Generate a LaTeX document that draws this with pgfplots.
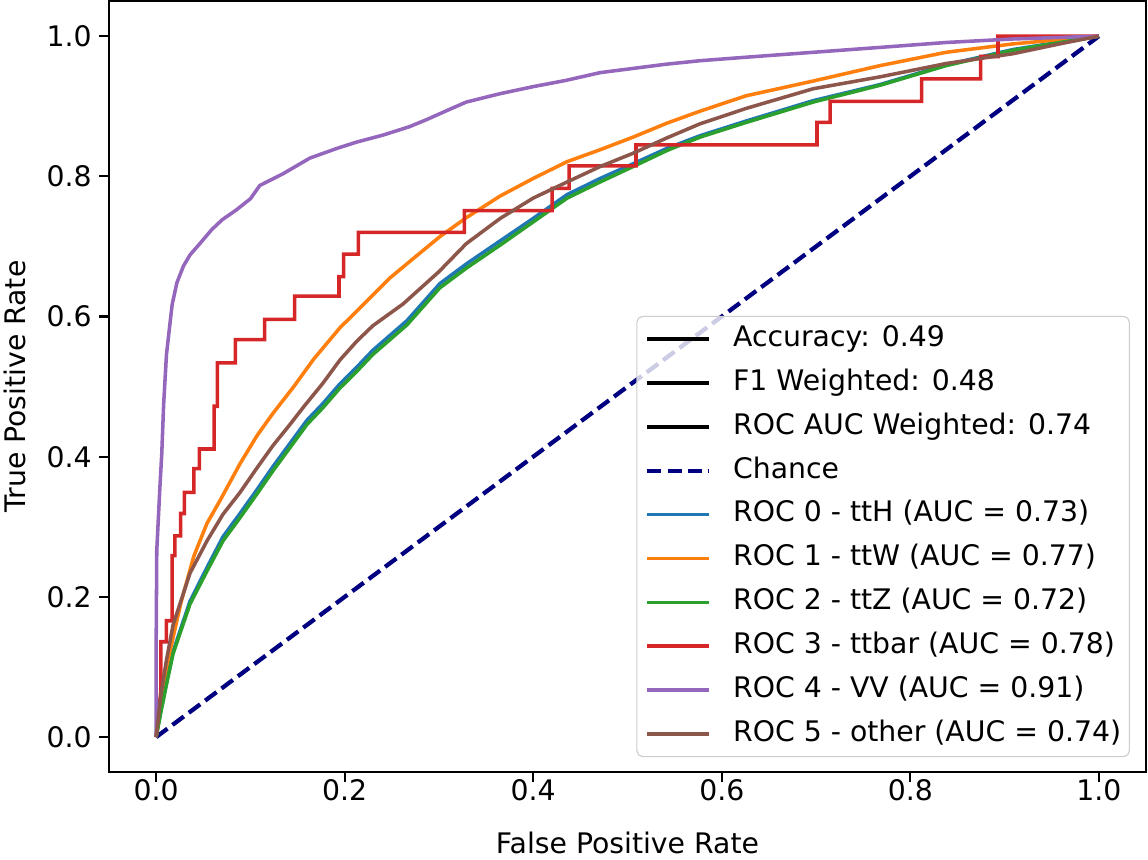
\documentclass[border=0pt]{standalone}
\usepackage{fontspec}
\setmainfont{DejaVu Sans}
\usepackage{pgfplots}
\pgfplotsset{compat=1.18}
\usetikzlibrary{calc}

\definecolor{tabblue}{HTML}{1F77B4}
\definecolor{taborange}{HTML}{FF7F0E}
\definecolor{tabgreen}{HTML}{2CA02C}
\definecolor{tabred}{HTML}{D62728}
\definecolor{tabpurple}{HTML}{9467BD}
\definecolor{tabbrown}{HTML}{8C564B}
\definecolor{chancenavy}{HTML}{000080}

\begin{document}
\fontsize{10bp}{12bp}\selectfont
\begin{tikzpicture}
\begin{axis}[
  scale only axis, width=366.4bp, height=272.4bp,
  xmin=-0.05, xmax=1.05, ymin=-0.05, ymax=1.05,
  xtick={0,0.2,0.4,0.6,0.8,1.0}, ytick={0,0.2,0.4,0.6,0.8,1.0},
  tick pos=left, tick align=outside, major tick length=3.5bp,
  axis line style={line width=0.8bp},
  every tick/.style={black, line width=0.8bp},
  /pgf/number format/fixed, /pgf/number format/fixed zerofill,
  /pgf/number format/precision=1,
  /pgf/number format/assume math mode=true,
  xticklabel style={anchor=north, inner sep=0pt, text height=7.3bp, text depth=0pt, yshift=1bp},
  yticklabel style={anchor=east, inner sep=0pt, xshift=-2.4bp},
  xlabel={False Positive Rate}, ylabel={True Positive Rate},
  xlabel style={at={(axis description cs:0.5,-0.105)}, anchor=base, inner sep=0pt},
  ylabel style={at={(axis description cs:-0.0906,0.5)}, anchor=center, inner sep=0pt},
  legend cell align=left,
  % the point above the line lowers the handle to the middle of the text
  legend image code/.code={\draw[#1] (0bp,0bp) -- (21.8bp,0bp); \path (0bp,2.8bp);},
  legend style={
    at={(axis description cs:1,0)}, anchor=south east, xshift=-5.7bp, yshift=5.3bp,
    draw=black!20, rounded corners=2bp, fill=white, fill opacity=0.8, text opacity=1,
    font=\fontsize{10bp}{12bp}\selectfont,
    inner xsep=2.9bp, inner ysep=3bp, row sep=5.5bp,
    nodes={inner sep=0pt, text height=7.6bp, text depth=2.4bp},
    /tikz/every odd column/.append style={column sep=7.8bp}
  },
  every axis plot/.append style={line width=1.25bp, line join=round}
]
\addlegendimage{black, line width=1.25bp}
\addlegendentry{Accuracy: 0.49}
\addlegendimage{black, line width=1.25bp}
\addlegendentry{F1 Weighted: 0.48}
\addlegendimage{black, line width=1.25bp}
\addlegendentry{ROC AUC Weighted: 0.74}

\addplot[chancenavy, line width=1.5bp, dash pattern=on 5bp off 2.2bp] coordinates {(0,0) (1,1)};
\addlegendentry{Chance}

% ROC 0 - ttH
\addplot[tabblue] coordinates {
(0,0) (0.005,0.038) (0.011,0.078) (0.018,0.122) (0.036,0.194) (0.054,0.242)
(0.071,0.286) (0.089,0.319) (0.107,0.353) (0.124,0.386) (0.142,0.419)
(0.160,0.452) (0.177,0.476) (0.195,0.504) (0.213,0.528) (0.230,0.552)
(0.266,0.594) (0.301,0.647) (0.329,0.675) (0.365,0.708) (0.400,0.740)
(0.436,0.774) (0.471,0.797) (0.506,0.818) (0.542,0.840) (0.577,0.858)
(0.626,0.879) (0.697,0.908) (0.768,0.931) (0.838,0.959) (0.909,0.981) (1,1)};
\addlegendentry{ROC 0 - ttH (AUC = 0.73)}

% ROC 1 - ttW
\addplot[taborange] coordinates {
(0,0) (0.005,0.050) (0.011,0.100) (0.026,0.190) (0.040,0.258) (0.054,0.305)
(0.068,0.338) (0.089,0.390) (0.107,0.430) (0.124,0.462) (0.146,0.500)
(0.167,0.539) (0.195,0.584) (0.216,0.612) (0.248,0.655) (0.273,0.683)
(0.301,0.714) (0.329,0.741) (0.365,0.772) (0.400,0.797) (0.436,0.821)
(0.471,0.838) (0.506,0.856) (0.542,0.876) (0.577,0.893) (0.626,0.915)
(0.697,0.936) (0.768,0.958) (0.838,0.977) (0.909,0.989) (1,1)};
\addlegendentry{ROC 1 - ttW (AUC = 0.77)}

% ROC 2 - ttZ
\addplot[tabgreen] coordinates {
(0,0) (0.005,0.035) (0.011,0.075) (0.018,0.119) (0.036,0.190) (0.054,0.237)
(0.071,0.280) (0.089,0.313) (0.107,0.347) (0.124,0.380) (0.142,0.413)
(0.160,0.446) (0.177,0.470) (0.195,0.498) (0.213,0.522) (0.230,0.546)
(0.266,0.588) (0.301,0.641) (0.329,0.669) (0.365,0.702) (0.400,0.735)
(0.436,0.769) (0.471,0.792) (0.506,0.814) (0.542,0.837) (0.577,0.856)
(0.626,0.877) (0.697,0.906) (0.768,0.930) (0.838,0.958) (0.909,0.980) (1,1)};
\addlegendentry{ROC 2 - ttZ (AUC = 0.72)}

% ROC 3 - ttbar
\addplot[tabred, line join=miter] coordinates {
(0,0) (0.005,0.065) (0.005,0.136) (0.011,0.136) (0.011,0.166) (0.017,0.166)
(0.017,0.259) (0.020,0.259) (0.020,0.287) (0.026,0.287) (0.026,0.319)
(0.030,0.319) (0.030,0.349) (0.040,0.349) (0.040,0.383) (0.046,0.383)
(0.046,0.411) (0.0615,0.411) (0.0615,0.472) (0.065,0.472) (0.065,0.534)
(0.084,0.534) (0.084,0.567) (0.115,0.567) (0.115,0.596) (0.147,0.596)
(0.147,0.629) (0.194,0.629) (0.194,0.657) (0.199,0.657) (0.199,0.689)
(0.2145,0.689) (0.2145,0.720) (0.327,0.720) (0.327,0.751) (0.420,0.751)
(0.420,0.783) (0.438,0.783) (0.438,0.815) (0.509,0.815) (0.509,0.845)
(0.701,0.845) (0.701,0.877) (0.715,0.877) (0.715,0.907) (0.812,0.907)
(0.812,0.939) (0.8745,0.939) (0.8745,0.971) (0.893,0.971) (0.893,1.0) (1,1)};
\addlegendentry{ROC 3 - ttbar (AUC = 0.78)}

% ROC 4 - VV
\addplot[tabpurple] coordinates {
(0,0) (0,0.120) (0.0007,0.266) (0.004,0.356) (0.006,0.404) (0.008,0.475)
(0.011,0.546) (0.017,0.617) (0.022,0.648) (0.029,0.672) (0.036,0.688)
(0.047,0.705) (0.059,0.724) (0.070,0.738) (0.085,0.752) (0.100,0.768)
(0.110,0.787) (0.135,0.804) (0.163,0.826) (0.192,0.840) (0.213,0.849)
(0.241,0.859) (0.269,0.871) (0.287,0.881) (0.312,0.896) (0.329,0.906)
(0.365,0.918) (0.400,0.928) (0.435,0.937) (0.471,0.948) (0.506,0.954)
(0.541,0.960) (0.577,0.965) (0.626,0.970) (0.697,0.977) (0.768,0.984)
(0.838,0.991) (0.909,0.996) (1,1)};
\addlegendentry{ROC 4 - VV (AUC = 0.91)}

% ROC 5 - other
\addplot[tabbrown] coordinates {
(0,0) (0.005,0.060) (0.011,0.110) (0.018,0.160) (0.036,0.234) (0.054,0.280)
(0.071,0.318) (0.089,0.349) (0.107,0.384) (0.124,0.416) (0.142,0.446)
(0.157,0.472) (0.177,0.505) (0.195,0.538) (0.213,0.565) (0.230,0.587)
(0.262,0.618) (0.300,0.664) (0.329,0.704) (0.365,0.740) (0.400,0.769)
(0.436,0.792) (0.471,0.814) (0.506,0.833) (0.542,0.855) (0.577,0.875)
(0.626,0.897) (0.697,0.925) (0.768,0.942) (0.838,0.961) (0.909,0.975)
(0.962,0.990) (1,1)};
\addlegendentry{ROC 5 - other (AUC = 0.74)}
\end{axis}
\pgfresetboundingbox
\path[use as bounding box] ($(current axis.south west)+(-38.5bp,-30.7bp)$) rectangle ($(current axis.north east)+(0.7bp,0.4bp)$);
\end{tikzpicture}
\end{document}
